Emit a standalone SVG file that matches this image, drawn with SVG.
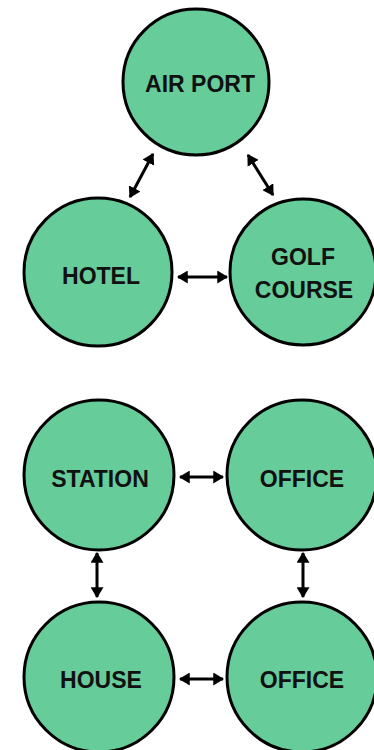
<svg xmlns="http://www.w3.org/2000/svg" width="374" height="750" viewBox="0 0 374 750">
<defs>
<style>
.n{fill:#66cc99;stroke:#000;stroke-width:3}
.t{font-family:"Liberation Sans",Arial,sans-serif;font-weight:bold;font-size:23px;fill:#111;text-anchor:middle}
.c{stroke:#000;stroke-width:3;fill:none;marker-start:url(#a);marker-end:url(#a)}
</style>
<marker id="a" viewBox="0 0 10 12" refX="9" refY="6" markerWidth="11" markerHeight="13" orient="auto-start-reverse" markerUnits="userSpaceOnUse">
<path d="M0,0 L10,6 L0,12 z" fill="#000"/>
</marker>
</defs>
<rect width="374" height="750" fill="#fff"/>
<g id="connectors">
<line class="c" x1="153" y1="154" x2="130" y2="197"/>
<line class="c" x1="248" y1="155" x2="273" y2="195"/>
<line class="c" x1="178" y1="277" x2="227" y2="277"/>
<line class="c" x1="180" y1="477" x2="223" y2="477"/>
<line class="c" x1="180" y1="679" x2="223" y2="679"/>
<line class="c" x1="97" y1="553" x2="97" y2="597"/>
<line class="c" x1="303" y1="553" x2="303" y2="597"/>
</g>
<g id="airport"><circle class="n" cx="196" cy="82" r="73"/><text class="t" x="200" y="92">AIR PORT</text></g>
<g id="hotel"><circle class="n" cx="98" cy="272" r="74"/><text class="t" x="101" y="284">HOTEL</text></g>
<g id="golf"><circle class="n" cx="303" cy="272" r="73"/><text class="t" x="303" y="265">GOLF</text><text class="t" x="304" y="298">COURSE</text></g>
<g id="station"><circle class="n" cx="99" cy="475" r="75"/><text class="t" x="100" y="487">STATION</text></g>
<g id="office1"><circle class="n" cx="302" cy="475" r="75"/><text class="t" x="302" y="487">OFFICE</text></g>
<g id="house"><circle class="n" cx="99" cy="677" r="75"/><text class="t" x="101" y="688">HOUSE</text></g>
<g id="office2"><circle class="n" cx="302" cy="677" r="75"/><text class="t" x="302" y="688">OFFICE</text></g>
</svg>
